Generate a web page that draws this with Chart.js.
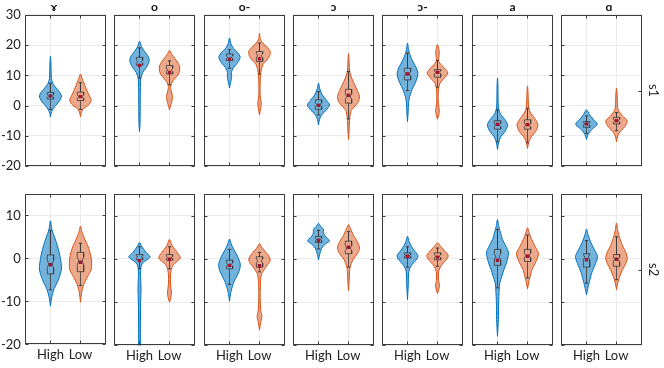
<!DOCTYPE html>
<html><head><meta charset="utf-8">
<script src="https://cdn.jsdelivr.net/npm/chart.js@4/dist/chart.umd.min.js"></script>
<style>
html,body{margin:0;padding:0;background:#fff;}
#wrap{position:relative;width:664px;height:368px;overflow:hidden;background:#fff;}
canvas{position:absolute;}
</style></head><body><div id="wrap"></div>
<script>
// ---------------- DATA ----------------
const PHONEMES = ['ɤ', 'o', 'o-', 'ɔ', 'ɔ-', 'a', 'ɑ'];
const SPEAKERS = ['s1', 's2'];
const GROUPS = ['High', 'Low'];
const Y_RANGE_S1 = [-20, 30];
const Y_RANGE_S2 = [-20, 15];
const Y_TICKS_S1 = [-20, -10, 0, 10, 20, 30];
const Y_TICKS_S2 = [-20, -10, 0, 10];

// box statistics per phoneme: [lower whisker, Q1, median, Q3, upper whisker]
const BOX_S1_HIGH = [[-1.2,2.2,3.2,4.4,7.4],[9.1,13.4,14.5,16.0,19.1],[12.4,14.9,16.0,17.1,18.5],[-3.1,-1.2,0.3,1.9,4.6],[5.0,8.5,10.5,12.4,17.4],[-12,-7.8,-6.5,-5.0,-1.4],[-9.2,-7.2,-6.0,-5.3,-3.4]];
const BOX_S1_LOW  = [[-1.2,1.7,3.0,4.5,7.6],[6.9,10.5,11.8,13.3,14.8],[10.5,14.6,16.5,17.9,20.7],[-4.4,0.8,3.0,5.4,11.3],[6.1,9.4,11.0,11.9,15.0],[-12.3,-7.8,-6.5,-4.7,-0.9],[-8.3,-6.1,-5.0,-3.9,-2.3]];
const BOX_S2_HIGH = [[-7.3,-3.6,-1.3,0.8,6.5],[-2.2,-0.2,0.5,1.0,2.8],[-5.9,-2.3,-1.3,-0.3,2.2],[2.3,3.8,4.5,5.2,6.6],[-1.9,0.2,0.8,1.4,2.8],[-6.7,-1.5,0.5,2.2,6.8],[-5.6,-1.9,0.4,1.2,4.2]];
const BOX_S2_LOW  = [[-6.3,-3.1,-0.6,1.4,3.5],[-2.3,-0.3,0.3,1.0,2.8],[-3.0,-1.9,-0.5,0.5,1.5],[-1.9,1.2,2.5,4.1,6.3],[-1.7,-0.2,0.6,1.4,2.5],[-4.4,-0.6,0.8,2.2,5.5],[-4.8,-1.7,-0.1,1.0,5.1]];

// means per phoneme
const MEAN_S1_HIGH = [3.2, 13.3, 15.4, 0.1, 10.5, -6.2, -6.1];
const MEAN_S1_LOW  = [3.0, 11.0, 15.5, 3.4, 11.0, -6.3, -5.0];
const MEAN_S2_HIGH = [-1.5, -0.4, -1.5, 4.3, 0.6, -0.3, -0.2];
const MEAN_S2_LOW  = [-0.9, -0.1, -1.6, 2.7, 0.4, 0.6, -0.1];

// density profiles per phoneme: [value, relative density]
const DENS_S1_HIGH = [
  [[-3.7,0],[-2.5,0.06],[-1.4,0.18],[0,0.45],[1.2,0.75],[2.5,0.95],[3.3,1.0],[4.4,0.85],[5.5,0.6],[6.5,0.38],[7.5,0.2],[9,0.09],[12,0.06],[14.5,0.04],[16.3,0]],
  [[-8.6,0],[-6,0.05],[-2,0.06],[2,0.07],[6,0.08],[9,0.12],[11,0.3],[12.5,0.6],[14,0.82],[15.2,0.88],[16.5,0.75],[18,0.45],[19.5,0.18],[21.3,0]],
  [[5.8,0],[7,0.06],[8.5,0.15],[9.6,0.2],[11,0.18],[12.5,0.35],[14,0.7],[15.5,0.93],[16.3,0.96],[17.5,0.75],[19,0.35],[20.5,0.12],[22.4,0]],
  [[-6.4,0],[-4.5,0.1],[-3,0.3],[-1.5,0.7],[0.2,1.0],[1.8,0.72],[3.5,0.35],[5.5,0.12],[7.4,0]],
  [[-5.3,0],[-2,0.06],[1,0.1],[3,0.2],[5.2,0.4],[7.5,0.7],[9.5,0.9],[10.8,0.94],[12.5,0.8],[14.5,0.5],[16.8,0.22],[18.5,0.1],[20.7,0]],
  [[-14.5,0],[-12,0.12],[-10.3,0.3],[-8.5,0.7],[-6.4,0.91],[-4.5,0.65],[-3,0.3],[-1.4,0.12],[1,0.06],[4,0.05],[6.5,0.04],[9.1,0]],
  [[-11.2,0],[-9.5,0.15],[-8,0.45],[-6.1,0.98],[-4.5,0.6],[-3,0.28],[-1.4,0]]
];
const DENS_S1_LOW = [
  [[-3.7,0],[-2.5,0.06],[-1,0.25],[0,0.65],[1,0.9],[2,0.97],[3,0.85],[4.5,0.65],[6,0.48],[7.5,0.32],[9,0.15],[10.5,0]],
  [[-1.4,0],[0,0.1],[1.5,0.22],[3,0.27],[4.5,0.18],[6,0.1],[7.5,0.2],[9,0.5],[10.5,0.82],[12.4,0.94],[14,0.8],[15.5,0.5],[17,0.2],[18.2,0]],
  [[-3.1,0],[-1,0.1],[1,0.16],[2.5,0.08],[5,0.05],[8.5,0.07],[11,0.12],[13.5,0.3],[15,0.65],[16.5,0.92],[17.9,0.98],[19.3,0.7],[20.7,0.3],[22,0.08],[24,0]],
  [[-11.2,0],[-8,0.06],[-5,0.1],[-2,0.2],[-0.5,0.5],[1,0.85],[3,1.0],[5,0.8],[7,0.55],[9,0.3],[11.3,0.1],[14,0.06],[17.2,0]],
  [[-4.5,0],[-3,0.12],[-1.4,0.16],[0.5,0.08],[3,0.06],[5.5,0.1],[7.4,0.22],[9,0.6],[10.8,0.94],[12.5,0.6],[14.6,0.12],[16.5,0.14],[17.9,0.16],[19,0.1],[20.2,0]],
  [[-14.2,0],[-12,0.12],[-10.3,0.35],[-8.5,0.75],[-6.4,0.95],[-4.5,0.7],[-2.5,0.3],[-0.9,0.12],[1.5,0.07],[4,0.05],[6.5,0]],
  [[-12,0],[-10,0.12],[-8.5,0.35],[-7,0.75],[-5,0.97],[-3.5,0.55],[-2,0.25],[-1,0.12],[1,0.08],[3.5,0.06],[5.8,0]]
];
const DENS_S2_HIGH = [
  [[-11.1,0],[-9,0.12],[-7,0.35],[-5,0.72],[-2.5,1.0],[0,0.9],[1.5,0.78],[3,0.62],[4.9,0.38],[6.5,0.15],[8.7,0]],
  [[-20.5,0.08],[-16,0.08],[-10,0.1],[-7,0.14],[-4,0.1],[-2,0.12],[-0.9,0.3],[0,0.8],[0.5,0.97],[1.5,0.6],[2.8,0.22],[3.8,0]],
  [[-9.8,0],[-8,0.1],[-6,0.3],[-4.8,0.5],[-3,0.85],[-1.3,0.98],[0.5,0.75],[2.2,0.38],[3.5,0.15],[4.6,0]],
  [[-0.2,0],[1,0.1],[2.5,0.3],[3.5,0.65],[4.2,1.0],[5,0.7],[5.8,0.48],[6.8,0.45],[7.5,0.22],[8.2,0]],
  [[-9.4,0],[-6,0.07],[-3,0.12],[-1.7,0.3],[0,0.85],[0.8,0.94],[2,0.6],[2.9,0.35],[4,0.15],[5.2,0]],
  [[-17.9,0],[-14,0.08],[-10,0.1],[-7.5,0.15],[-5.6,0.2],[-4,0.4],[-2.5,0.58],[-1,0.8],[1.4,1.0],[3,0.75],[4.5,0.45],[6,0.28],[7.5,0.12],[9.1,0]],
  [[-8.3,0],[-6.8,0.12],[-5.9,0.2],[-4.5,0.35],[-3.2,0.48],[-1.5,0.75],[0.5,1.0],[2,0.75],[3.2,0.5],[4.1,0.35],[5.5,0.15],[6.9,0]]
];
const DENS_S2_LOW = [
  [[-10.2,0],[-8,0.1],[-6,0.3],[-4.5,0.6],[-2.5,0.98],[0,0.98],[1.5,0.85],[3,0.65],[4.5,0.38],[6,0.15],[7.5,0]],
  [[-10,0],[-9,0.12],[-7.9,0.18],[-6,0.1],[-3.5,0.1],[-1.5,0.3],[0.2,0.97],[1.5,0.7],[3,0.25],[4.5,0]],
  [[-16.4,0],[-14.5,0.12],[-13.3,0.22],[-12,0.12],[-9,0.06],[-6,0.08],[-3.6,0.18],[-2,0.55],[-0.2,0.98],[1.5,0.6],[2.5,0.25],[3.5,0]],
  [[-7.3,0],[-5,0.06],[-3,0.1],[-1.9,0.15],[-0.2,0.4],[1.2,0.8],[2.5,1.0],[4,0.8],[5.2,0.5],[6,0.35],[7,0.18],[7.9,0]],
  [[-8,0],[-6.3,0.18],[-5,0.1],[-3,0.1],[-1.7,0.3],[0,0.85],[0.8,0.97],[2,0.6],[3,0.25],[3.7,0]],
  [[-6.9,0],[-5,0.15],[-3.5,0.3],[-2.5,0.4],[-1,0.7],[1.2,1.0],[2.8,0.7],[4.5,0.38],[6,0.15],[7.2,0]],
  [[-7.1,0],[-5.5,0.12],[-4,0.3],[-2.5,0.55],[-1,0.85],[0.2,0.98],[1.5,0.85],[3,0.55],[4.9,0.28],[6.5,0.12],[8.3,0]]
];

// ---------------- STYLE / LAYOUT ----------------
const PANEL_LEFT = [25, 114, 204, 293, 382, 472, 561];
const ROW_TOP = [15, 194];
const PANEL_W = 81, PANEL_H = 151;
const X_MIN = 0.15, X_MAX = 2.85;
const VIOLIN_HALF = 0.367;   // x-units for relative density 1
const BOX_HALF = 0.105;
const LINE_COLORS = ['#0072BD', '#D95319'];
const FILL_COLORS = ['rgba(0,114,189,0.55)', 'rgba(217,83,25,0.5)'];
const BOX_COLOR = '#3a3a3a';
const MEAN_COLOR = '#A2142F';
const GRID_COLOR = '#ebebeb';
const AXIS_COLOR = '#3c3c3c';
const TEXT_COLOR = '#222';
const FONT = "Lato, 'Noto Sans', sans-serif";

const wrap = document.getElementById('wrap');

function violinPts(prof, cx) {
  const right = prof.map(([y, d]) => ({x: cx + d * VIOLIN_HALF, y}));
  const left = prof.slice(0, -1).reverse().map(([y, d]) => ({x: cx - d * VIOLIN_HALF, y}));
  return right.concat(left);
}
function boxPts(cx, q1, med, q3) {
  const n = Math.min(med - q1, q3 - med, (q3 - q1) * 0.25) * 0.8;
  const bw = BOX_HALF, nw = BOX_HALF * 0.55;
  return [
    {x: cx - bw, y: q1}, {x: cx - bw, y: med - n}, {x: cx - nw, y: med}, {x: cx - bw, y: med + n}, {x: cx - bw, y: q3},
    {x: cx + bw, y: q3}, {x: cx + bw, y: med + n}, {x: cx + nw, y: med}, {x: cx + bw, y: med - n}, {x: cx + bw, y: q1},
    {x: cx - bw, y: q1}
  ];
}

function makeConfig(r, c) {
  const boxes = r === 0 ? [BOX_S1_HIGH, BOX_S1_LOW] : [BOX_S2_HIGH, BOX_S2_LOW];
  const means = r === 0 ? [MEAN_S1_HIGH, MEAN_S1_LOW] : [MEAN_S2_HIGH, MEAN_S2_LOW];
  const dens = r === 0 ? [DENS_S1_HIGH, DENS_S1_LOW] : [DENS_S2_HIGH, DENS_S2_LOW];
  const yr = r === 0 ? Y_RANGE_S1 : Y_RANGE_S2;
  const yt = r === 0 ? Y_TICKS_S1 : Y_TICKS_S2;
  const datasets = [];
  GROUPS.forEach((g, gi) => {
    const cx = gi + 1;
    const [wlo, q1, med, q3, whi] = boxes[gi][c];
    datasets.push({data: violinPts(dens[gi][c], cx), borderColor: LINE_COLORS[gi], backgroundColor: FILL_COLORS[gi],
      borderWidth: 1, fill: 'shape', tension: 0.3, pointRadius: 0, order: 5});
    datasets.push({data: boxPts(cx, q1, med, q3), borderColor: BOX_COLOR, borderWidth: 0.8, fill: false, tension: 0, pointRadius: 0, order: 3});
    const capStyle = {pointStyle: 'line', pointRadius: (ctx) => ctx.dataIndex === 0 ? 1.6 : 0, pointBorderColor: BOX_COLOR, pointBorderWidth: 1, pointBackgroundColor: BOX_COLOR};
    datasets.push(Object.assign({data: [{x: cx, y: wlo}, {x: cx, y: q1}], borderColor: BOX_COLOR, borderWidth: 0.8, fill: false, order: 3}, capStyle));
    datasets.push(Object.assign({data: [{x: cx, y: whi}, {x: cx, y: q3}], borderColor: BOX_COLOR, borderWidth: 0.8, fill: false, order: 3}, capStyle));
    datasets.push({data: [{x: cx, y: means[gi][c]}], showLine: false, pointStyle: 'rect', pointRadius: 2.4,
      pointBackgroundColor: MEAN_COLOR, pointBorderColor: MEAN_COLOR, pointBorderWidth: 0, order: 1});
  });

  const framePlugin = {
    id: 'frameTicks',
    afterDatasetsDraw(chart) {
      const {ctx, chartArea: a, scales} = chart;
      const L = Math.round(a.left) + 0.5, R = Math.round(a.right) - 0.5;
      const T = Math.round(a.top) + 0.5, B = Math.round(a.bottom) - 0.5;
      const TL = 3;
      ctx.save();
      ctx.strokeStyle = AXIS_COLOR; ctx.lineWidth = 1;
      ctx.beginPath();
      scales.y.ticks.forEach(t => {
        const p = Math.round(scales.y.getPixelForValue(t.value)) + 0.5;
        ctx.moveTo(L, p); ctx.lineTo(L + TL, p);
        if (!scales.y2) { ctx.moveTo(R, p); ctx.lineTo(R - TL, p); }
      });
      if (scales.y2) scales.y2.ticks.forEach(t => {
        const p = Math.round(scales.y2.getPixelForValue(t.value)) + 0.5;
        ctx.moveTo(R, p); ctx.lineTo(R - TL, p);
      });
      scales.x.ticks.forEach(t => {
        const p = Math.round(scales.x.getPixelForValue(t.value)) + 0.5;
        ctx.moveTo(p, B); ctx.lineTo(p, B - TL);
        ctx.moveTo(p, T); ctx.lineTo(p, T + TL);
      });
      ctx.stroke();
      ctx.strokeRect(L, T, R - L, B - T);
      ctx.restore();
    }
  };

  const scales = {
    x: {type: 'linear', min: X_MIN, max: X_MAX,
      afterBuildTicks: s => { s.ticks = GROUPS.map((g, i) => ({value: i + 1})); },
      ticks: {display: r === 1, callback: v => GROUPS[Math.round(v) - 1], font: {family: FONT, size: 13}, color: TEXT_COLOR, padding: 3, maxRotation: 0, autoSkip: false},
      grid: {color: GRID_COLOR, drawTicks: false}, border: {display: false}},
    y: {type: 'linear', min: yr[0], max: yr[1],
      afterBuildTicks: s => { s.ticks = yt.map(v => ({value: v})); },
      ticks: {display: c === 0, font: {family: FONT, size: 13}, color: TEXT_COLOR, padding: 4},
      grid: {color: GRID_COLOR, drawTicks: false}, border: {display: false}}
  };
  if (c === PHONEMES.length - 1) {
    scales.y2 = {type: 'linear', position: 'right', min: 0, max: 1,
      afterBuildTicks: s => { s.ticks = [{value: 0.5}]; },
      ticks: {display: false}, grid: {display: false, drawTicks: false}, border: {display: false},
      title: {display: true, text: SPEAKERS[r], color: TEXT_COLOR, font: {family: FONT, size: 13}, padding: {top: 1, bottom: 0}},
      afterFit: s => { s.width = 20; }};
  }
  return {
    type: 'line',
    data: {datasets},
    options: {
      indexAxis: 'y',
      responsive: false, maintainAspectRatio: false, animation: false, devicePixelRatio: 1,
      layout: {padding: 0},
      events: [],
      plugins: {
        legend: {display: false}, tooltip: {enabled: false},
        title: {display: r === 0, text: PHONEMES[c], color: '#111', font: {family: FONT, size: 12, weight: 'bold'}, padding: {top: 0, bottom: 0.6}}
      },
      scales
    },
    plugins: [framePlugin]
  };
}

function createChart(w, h, cfg) {
  const cv = document.createElement('canvas');
  cv.width = w; cv.height = h;
  cv.style.width = w + 'px'; cv.style.height = h + 'px';
  wrap.appendChild(cv);
  return {cv, chart: new Chart(cv, cfg)};
}

function buildPanel(r, c) {
  const w0 = PANEL_W + 60, h0 = PANEL_H + 60;
  const probe = createChart(w0, h0, makeConfig(r, c));
  const a = probe.chart.chartArea;
  const w = Math.round(w0 + PANEL_W - (a.right - a.left));
  const h = Math.round(h0 + PANEL_H - (a.bottom - a.top));
  probe.chart.destroy(); probe.cv.remove();
  const {cv, chart} = createChart(w, h, makeConfig(r, c));
  const b = chart.chartArea;
  cv.style.left = Math.round(PANEL_LEFT[c] - b.left) + 'px';
  cv.style.top = Math.round(ROW_TOP[r] - b.top) + 'px';
}

for (let r = 0; r < SPEAKERS.length; r++)
  for (let c = 0; c < PHONEMES.length; c++) buildPanel(r, c);
</script>
</body></html>
